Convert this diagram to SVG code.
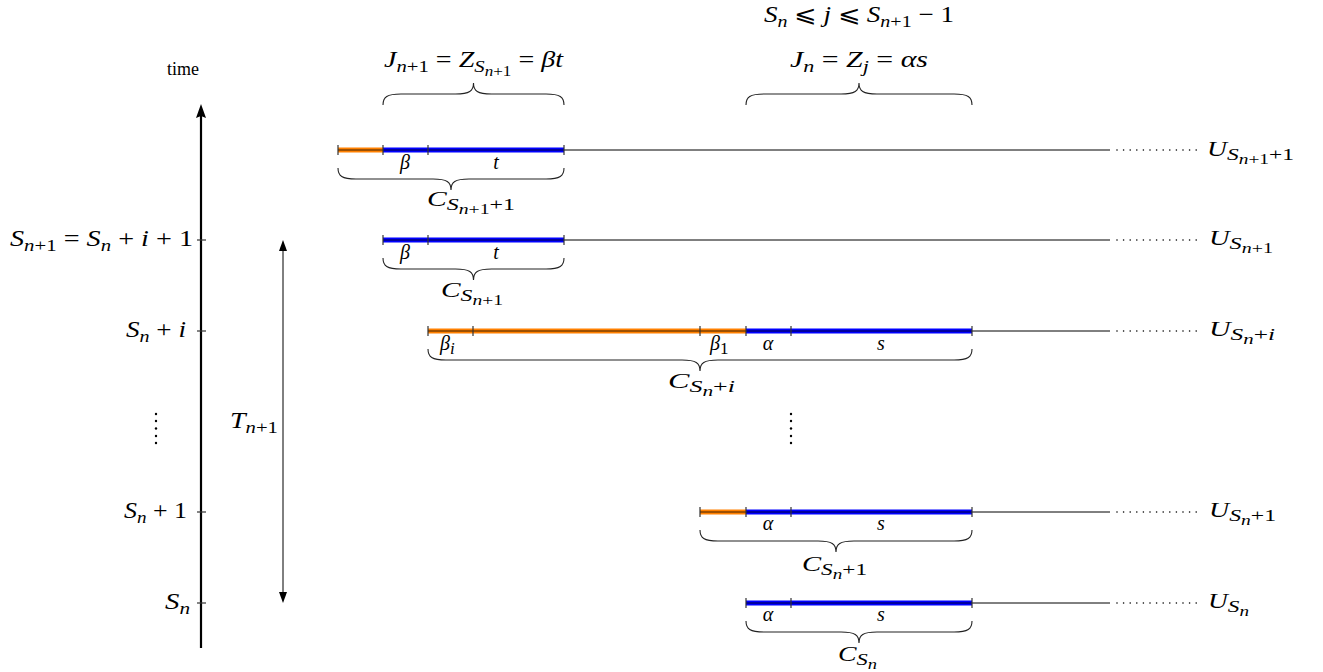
<svg xmlns="http://www.w3.org/2000/svg" width="1323" height="672" viewBox="0 0 1323 672">
<style>
.m{font-family:"Liberation Serif","DejaVu Serif",serif;font-size:23px;fill:#000}
.c{font-size:21px}
.u{font-size:20px}
.l{font-size:20px}
.i{font-style:italic}
.s{font-size:17px}
.ss{font-size:14px}
.thin{stroke:#000;stroke-width:1;fill:none}
.or{stroke:#FF8000;stroke-width:5;fill:none}
.bl{stroke:#0000FF;stroke-width:5;fill:none}
.core{stroke:#000;stroke-width:1;stroke-opacity:0.75;fill:none}
.tick{stroke:#333;stroke-width:1.2}
.dots{stroke:#000;stroke-width:1.6;stroke-linecap:round;stroke-dasharray:0 6.6;fill:none}
.brace{stroke:#222;stroke-width:1.1;fill:none}
</style>
<rect width="1323" height="672" fill="#fff"/>

<g id="axis">
  <line x1="201" y1="648" x2="201" y2="114" stroke="#000" stroke-width="2.2"/>
  <polygon points="201,104 196,118 201,116 206,118" fill="#000"/>
  <g class="tick">
    <line x1="197" y1="240" x2="206" y2="240"/>
    <line x1="197" y1="331" x2="206" y2="331"/>
    <line x1="197" y1="512" x2="206" y2="512"/>
    <line x1="197" y1="603" x2="206" y2="603"/>
  </g>
  <text class="m" x="183" y="75" text-anchor="middle" style="font-size:18px">time</text>
  <text class="m" x="10" y="246" textLength="183" lengthAdjust="spacingAndGlyphs"><tspan class="i">S</tspan><tspan class="s" dy="5"><tspan class="i">n</tspan>+1</tspan><tspan dy="-5"> = </tspan><tspan class="i">S</tspan><tspan class="s i" dy="5">n</tspan><tspan dy="-5"> + </tspan><tspan class="i">i</tspan> + 1</text>
  <text class="m" x="126" y="337" textLength="60" lengthAdjust="spacingAndGlyphs"><tspan class="i">S</tspan><tspan class="s i" dy="5">n</tspan><tspan dy="-5"> + </tspan><tspan class="i">i</tspan></text>
  <g fill="#000">
    <circle cx="156" cy="414" r="1.2"/><circle cx="156" cy="421" r="1.2"/><circle cx="156" cy="428.5" r="1.2"/><circle cx="156" cy="436" r="1.2"/><circle cx="156" cy="443" r="1.2"/>
  </g>
  <text class="m" x="124" y="518" textLength="63" lengthAdjust="spacingAndGlyphs"><tspan class="i">S</tspan><tspan class="s i" dy="5">n</tspan><tspan dy="-5"> + 1</tspan></text>
  <text class="m" x="165" y="609" textLength="25" lengthAdjust="spacingAndGlyphs"><tspan class="i">S</tspan><tspan class="s i" dy="5">n</tspan></text>
</g>

<g id="duration">
  <line class="thin" x1="283" y1="248" x2="283" y2="595"/>
  <polygon points="283,240 279,251 287,251" fill="#000"/>
  <polygon points="283,603 279,592 287,592" fill="#000"/>
  <text class="m" x="230" y="428" textLength="48" lengthAdjust="spacingAndGlyphs"><tspan class="i">T</tspan><tspan class="s" dy="5"><tspan class="i">n</tspan>+1</tspan></text>
</g>

<g id="top-labels">
  <path class="brace" d="M383,105 C383,97 387,94 401,94 L455.5,94 C469.5,94 473.5,91 473.5,83 C473.5,91 477.5,94 491.5,94 L546,94 C560,94 564,97 564,105"/>
  <path class="brace" d="M746,105 C746,97 750,94 764,94 L841,94 C855,94 859,91 859,83 C859,91 863,94 877,94 L954,94 C968,94 972,97 972,105"/>
  <text class="m" x="384" y="67" textLength="179" lengthAdjust="spacingAndGlyphs"><tspan class="i">J</tspan><tspan class="s" dy="5"><tspan class="i">n</tspan>+1</tspan><tspan dy="-5"> = </tspan><tspan class="i">Z</tspan><tspan class="s i" dy="5">S</tspan><tspan class="ss" dy="3.5"><tspan class="i">n</tspan>+1</tspan><tspan dy="-8.5"> = </tspan><tspan class="i">βt</tspan></text>
  <text class="m" x="790" y="67" textLength="138" lengthAdjust="spacingAndGlyphs"><tspan class="i">J</tspan><tspan class="s i" dy="5">n</tspan><tspan dy="-5"> = </tspan><tspan class="i">Z</tspan><tspan class="s i" dy="5">j</tspan><tspan dy="-5"> = </tspan><tspan class="i">αs</tspan></text>
  <text class="m" x="764" y="22" textLength="190" lengthAdjust="spacingAndGlyphs"><tspan class="i">S</tspan><tspan class="s i" dy="5">n</tspan><tspan dy="-5"> ⩽ </tspan><tspan class="i">j</tspan> ⩽ <tspan class="i">S</tspan><tspan class="s" dy="5"><tspan class="i">n</tspan>+1</tspan><tspan dy="-5"> − 1</tspan></text>
</g>

<g id="row-Sn1p1">
  <line class="thin" x1="564" y1="150" x2="1110" y2="150"/>
  <line class="dots" x1="1117" y1="150" x2="1197" y2="150"/>
  <line class="or" x1="338" y1="150" x2="383" y2="150"/>
  <line class="bl" x1="383" y1="150" x2="564" y2="150"/>
  <line class="core" x1="338" y1="150" x2="564" y2="150"/>
  <g class="tick"><line x1="338" y1="145" x2="338" y2="155"/><line x1="383" y1="145" x2="383" y2="155"/><line x1="428" y1="145" x2="428" y2="155"/><line x1="564" y1="145" x2="564" y2="155"/></g>
  <text class="m l i" x="405" y="169" text-anchor="middle">β</text>
  <text class="m l i" x="496" y="169" text-anchor="middle">t</text>
  <path class="brace" d="M338,168 C338,176 342,179 356,179 L433,179 C447,179 451,182 451,190 C451,182 455,179 469,179 L546,179 C560,179 564,176 564,168"/>
  <text class="m c" x="427" y="206" textLength="88" lengthAdjust="spacingAndGlyphs"><tspan class="i">C</tspan><tspan class="s i" dy="4">S</tspan><tspan class="ss" dy="3.5"><tspan class="i">n</tspan>+1</tspan><tspan class="s" dy="-3.5">+1</tspan></text>
  <text class="m u" x="1207" y="156" textLength="87" lengthAdjust="spacingAndGlyphs"><tspan class="i">U</tspan><tspan class="s i" dy="4">S</tspan><tspan class="ss" dy="3.5"><tspan class="i">n</tspan>+1</tspan><tspan class="s" dy="-3.5">+1</tspan></text>
</g>

<g id="row-Sn1">
  <line class="thin" x1="564" y1="240" x2="1110" y2="240"/>
  <line class="dots" x1="1117" y1="240" x2="1197" y2="240"/>
  <line class="bl" x1="383" y1="240" x2="564" y2="240"/>
  <line class="core" x1="383" y1="240" x2="564" y2="240"/>
  <g class="tick"><line x1="383" y1="235" x2="383" y2="245"/><line x1="428" y1="235" x2="428" y2="245"/><line x1="564" y1="235" x2="564" y2="245"/></g>
  <text class="m l i" x="405" y="259" text-anchor="middle">β</text>
  <text class="m l i" x="496" y="259" text-anchor="middle">t</text>
  <path class="brace" d="M383,258 C383,266 387,269 401,269 L455.5,269 C469.5,269 473.5,272 473.5,280 C473.5,272 477.5,269 491.5,269 L546,269 C560,269 564,266 564,258"/>
  <text class="m c" x="441" y="297" textLength="62" lengthAdjust="spacingAndGlyphs"><tspan class="i">C</tspan><tspan class="s i" dy="4">S</tspan><tspan class="ss" dy="3.5"><tspan class="i">n</tspan>+1</tspan></text>
  <text class="m u" x="1209" y="245" textLength="64" lengthAdjust="spacingAndGlyphs"><tspan class="i">U</tspan><tspan class="s i" dy="4">S</tspan><tspan class="ss" dy="3.5"><tspan class="i">n</tspan>+1</tspan></text>
</g>

<g id="row-Sni">
  <line class="thin" x1="972" y1="331" x2="1110" y2="331"/>
  <line class="dots" x1="1117" y1="331" x2="1197" y2="331"/>
  <line class="or" x1="428" y1="331" x2="746" y2="331"/>
  <line class="bl" x1="746" y1="331" x2="972" y2="331"/>
  <line class="core" x1="428" y1="331" x2="972" y2="331"/>
  <g class="tick"><line x1="428" y1="326" x2="428" y2="336"/><line x1="473" y1="326" x2="473" y2="336"/><line x1="700" y1="326" x2="700" y2="336"/><line x1="746" y1="326" x2="746" y2="336"/><line x1="791" y1="326" x2="791" y2="336"/><line x1="972" y1="326" x2="972" y2="336"/></g>
  <text class="m l" x="440" y="350"><tspan class="i">β</tspan><tspan class="s i" dy="4">i</tspan></text>
  <text class="m l" x="710" y="350"><tspan class="i">β</tspan><tspan class="s" dy="4">1</tspan></text>
  <text class="m l i" x="768" y="350" text-anchor="middle">α</text>
  <text class="m l i" x="881" y="350" text-anchor="middle">s</text>
  <path class="brace" d="M428,349 C428,357 432,360 446,360 L682,360 C696,360 700,363 700,371 C700,363 704,360 718,360 L954,360 C968,360 972,357 972,349"/>
  <text class="m c" x="668" y="388" textLength="67" lengthAdjust="spacingAndGlyphs"><tspan class="i">C</tspan><tspan class="s i" dy="4">S</tspan><tspan class="ss i" dy="3.5">n</tspan><tspan class="s" dy="-3.5">+<tspan class="i">i</tspan></tspan></text>
  <text class="m u" x="1209" y="336" textLength="66" lengthAdjust="spacingAndGlyphs"><tspan class="i">U</tspan><tspan class="s i" dy="4">S</tspan><tspan class="ss i" dy="3.5">n</tspan><tspan class="s" dy="-3.5">+<tspan class="i">i</tspan></tspan></text>
</g>

<g id="middle-dots" fill="#000">
  <circle cx="791" cy="414" r="1.2"/><circle cx="791" cy="421" r="1.2"/><circle cx="791" cy="428.5" r="1.2"/><circle cx="791" cy="436" r="1.2"/><circle cx="791" cy="443" r="1.2"/>
</g>

<g id="row-Snp1">
  <line class="thin" x1="972" y1="512" x2="1110" y2="512"/>
  <line class="dots" x1="1117" y1="512" x2="1197" y2="512"/>
  <line class="or" x1="700" y1="512" x2="746" y2="512"/>
  <line class="bl" x1="746" y1="512" x2="972" y2="512"/>
  <line class="core" x1="700" y1="512" x2="972" y2="512"/>
  <g class="tick"><line x1="700" y1="507" x2="700" y2="517"/><line x1="746" y1="507" x2="746" y2="517"/><line x1="791" y1="507" x2="791" y2="517"/><line x1="972" y1="507" x2="972" y2="517"/></g>
  <text class="m l i" x="768" y="530" text-anchor="middle">α</text>
  <text class="m l i" x="881" y="530" text-anchor="middle">s</text>
  <path class="brace" d="M700,530 C700,538 704,541 718,541 L818,541 C832,541 836,544 836,552 C836,544 840,541 854,541 L954,541 C968,541 972,538 972,530"/>
  <text class="m c" x="802" y="571" textLength="65" lengthAdjust="spacingAndGlyphs"><tspan class="i">C</tspan><tspan class="s i" dy="4">S</tspan><tspan class="ss i" dy="3.5">n</tspan><tspan class="s" dy="-3.5">+1</tspan></text>
  <text class="m u" x="1209" y="517" textLength="67" lengthAdjust="spacingAndGlyphs"><tspan class="i">U</tspan><tspan class="s i" dy="4">S</tspan><tspan class="ss i" dy="3.5">n</tspan><tspan class="s" dy="-3.5">+1</tspan></text>
</g>

<g id="row-Sn">
  <line class="thin" x1="972" y1="603" x2="1110" y2="603"/>
  <line class="dots" x1="1117" y1="603" x2="1197" y2="603"/>
  <line class="bl" x1="746" y1="603" x2="972" y2="603"/>
  <line class="core" x1="746" y1="603" x2="972" y2="603"/>
  <g class="tick"><line x1="746" y1="598" x2="746" y2="608"/><line x1="791" y1="598" x2="791" y2="608"/><line x1="972" y1="598" x2="972" y2="608"/></g>
  <text class="m l i" x="768" y="621" text-anchor="middle">α</text>
  <text class="m l i" x="881" y="621" text-anchor="middle">s</text>
  <path class="brace" d="M746,621 C746,629 750,632 764,632 L841,632 C855,632 859,635 859,643 C859,635 863,632 877,632 L954,632 C968,632 972,629 972,621"/>
  <text class="m c" x="838" y="661" textLength="39" lengthAdjust="spacingAndGlyphs"><tspan class="i">C</tspan><tspan class="s i" dy="4">S</tspan><tspan class="ss i" dy="3.5">n</tspan></text>
  <text class="m u" x="1208" y="608" textLength="41" lengthAdjust="spacingAndGlyphs"><tspan class="i">U</tspan><tspan class="s i" dy="4">S</tspan><tspan class="ss i" dy="3.5">n</tspan></text>
</g>
</svg>
